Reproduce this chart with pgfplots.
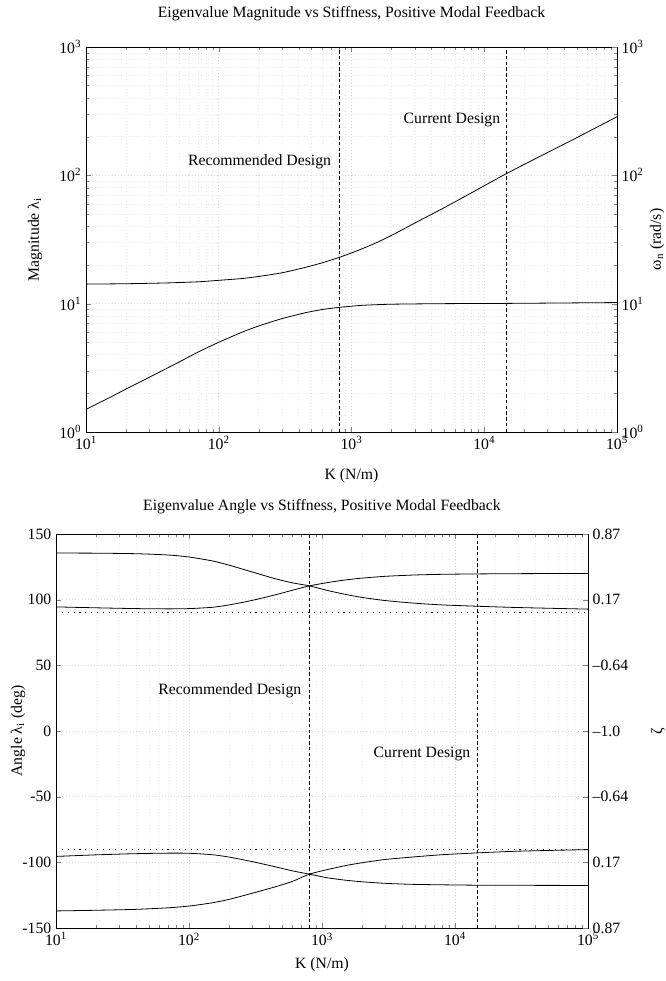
\documentclass[border=0pt]{standalone}
\usepackage{fontspec}
\setmainfont{Liberation Serif}
\usepackage{pgfplots}
\pgfplotsset{compat=1.18}
\newcommand{\tf}{\fontsize{11.8}{14}\selectfont}
\newcommand{\lgl}{10\textsuperscript{\pgfmathparse{int(round(\tick/ln(10)))}\pgfmathresult}}
\begin{document}
\begin{tikzpicture}
\useasboundingbox (0,0) rectangle (498.75pt,735.75pt);
% ---------------- top plot ----------------
\begin{axis}[scale only axis, anchor=south west, at={(64.5pt,411.75pt)}, width=398.25pt, height=288.75pt,
  xmode=log, ymode=log, xmin=10, xmax=100000, ymin=1, ymax=1000,
  tick align=inside, major tick length=4pt, minor tick length=2.2pt,
  xticklabel={\lgl}, yticklabel={\lgl},
  tick label style={font=\tf}, label style={font=\tf}, title style={font=\tf},
  grid=both, major grid style={gray!30, dotted}, minor grid style={gray!18, dotted},
  title={Eigenvalue Magnitude vs Stiffness, Positive Modal Feedback},
  title style={at={(axis description cs:0.5,1)}, anchor=center, yshift=18.75pt},
  xlabel={K (N/m)}, xlabel style={at={(axis description cs:0.5,0)}, anchor=center, yshift=-33pt},
  ylabel={Magnitude λ\textsubscript{i}}, ylabel style={at={(axis description cs:0,0.5)}, anchor=center, yshift=38.25pt},
]
\addplot[black, line width=0.6pt, no markers, smooth, tension=0.4] coordinates {(10,14.2) (20,14.3) (40,14.5) (70,14.8) (100,15.2) (150,15.7) (200,16.3) (300,17.4) (450,19.2) (600,20.8) (804,22.9) (1100,25.8) (1500,29.5) (2000,34) (3000,42.5) (5000,56) (8000,73) (14660,103) (30000,150.6) (50000,197) (100000,286)};
\addplot[black, line width=0.6pt, no markers, smooth, tension=0.4] coordinates {(10,1.5) (15,1.85) (20,2.16) (30,2.67) (50,3.5) (70,4.2) (100,5.0) (150,6.0) (200,6.7) (300,7.65) (450,8.5) (600,9.0) (804,9.35) (1200,9.7) (2000,9.9) (5000,10.0) (15000,10.05) (100000,10.2)};
\addplot[black, line width=0.6pt, dash pattern=on 2.5pt off 1.8pt] coordinates {(804,1) (804,1000)};
\addplot[black, line width=0.6pt, dash pattern=on 2.5pt off 1.8pt] coordinates {(14660,1) (14660,1000)};
\node[font=\tf] at (axis cs:203,127) {Recommended Design};
\node[font=\tf] at (axis cs:5710,270) {Current Design};
\end{axis}
\begin{axis}[scale only axis, anchor=south west, at={(64.5pt,411.75pt)}, width=398.25pt, height=288.75pt,
  xmode=log, ymode=log, xmin=10, xmax=100000, ymin=1, ymax=1000,
  hide x axis, axis y line*=right,
  tick align=inside, major tick length=4pt, minor tick length=2.2pt,
  yticklabel={\lgl}, tick label style={font=\tf}, label style={font=\tf},
  ylabel={ω\textsubscript{n} (rad/s)}, ylabel style={at={(axis description cs:1,0.5)}, anchor=center, yshift=-30pt},
]
\end{axis}
% ---------------- bottom plot ----------------
\begin{axis}[scale only axis, anchor=south west, at={(42pt,39.75pt)}, width=399pt, height=295.5pt,
  xmode=log, xmin=10, xmax=100000, ymin=-150, ymax=150,
  tick align=inside, major tick length=4pt, minor tick length=2.2pt,
  xticklabel={\lgl},
  ytick={-150,-100,-50,0,50,100,150},
  yticklabels={-150,-100,-50,0,50,100,150},
  tick label style={font=\tf}, label style={font=\tf}, title style={font=\tf},
  grid=both, major grid style={gray!30, dotted}, minor grid style={gray!15, dotted},
  title={Eigenvalue Angle vs Stiffness, Positive Modal Feedback},
  title style={at={(axis description cs:0.5,1)}, anchor=center, yshift=14.25pt},
  xlabel={K (N/m)}, xlabel style={at={(axis description cs:0.5,0)}, anchor=center, yshift=-27.75pt},
  ylabel={Angle λ\textsubscript{i} (deg)}, ylabel style={at={(axis description cs:0,0.5)}, anchor=center, yshift=28.5pt},
]
\addplot[black, line width=0.6pt, no markers, smooth, tension=0.4] coordinates {(10,135.5) (20,135.4) (40,135) (70,134) (100,132.5) (150,129.5) (200,126.3) (300,121) (450,115.8) (600,112.8) (804,110.5) (1100,107) (1500,104) (2000,101.7) (3000,99.3) (5000,97.3) (8000,96) (14660,95) (30000,94) (100000,92.8)};
\addplot[black, line width=0.6pt, no markers, smooth, tension=0.4] coordinates {(10,94.5) (20,93.8) (40,93.2) (70,93) (100,93.2) (150,94.2) (200,96) (300,99.5) (450,103.8) (600,107.2) (804,110.5) (1100,113) (1500,115) (2000,116.4) (3000,117.8) (5000,118.8) (8000,119.3) (14660,119.6) (30000,119.8) (100000,120)};
\addplot[black, line width=0.6pt, no markers, smooth, tension=0.4] coordinates {(10,-95.5) (20,-94.3) (40,-93.4) (70,-93) (100,-93.1) (150,-94.2) (200,-96) (300,-99.5) (450,-103.5) (600,-106.5) (804,-109) (1100,-111.8) (1500,-113.6) (2000,-114.8) (3000,-116) (5000,-116.8) (14660,-117.4) (100000,-117.6)};
\addplot[black, line width=0.6pt, no markers, smooth, tension=0.4] coordinates {(10,-137) (20,-136.5) (40,-135.8) (70,-134.6) (100,-133.3) (150,-130.8) (200,-128.2) (300,-123.5) (450,-118.5) (600,-114.5) (804,-109) (1100,-105.5) (1500,-102.5) (2000,-100.3) (3000,-97.8) (5000,-95.8) (8000,-94.2) (14660,-92.8) (30000,-91.5) (100000,-90.3)};
\addplot[black, line width=0.7pt, dash pattern=on 0.8pt off 3.6pt] coordinates {(10,90) (100000,90)};
\addplot[black, line width=0.7pt, dash pattern=on 0.8pt off 3.6pt] coordinates {(10,-90) (100000,-90)};
\addplot[black, line width=0.6pt, dash pattern=on 2.5pt off 1.8pt] coordinates {(804,-150) (804,150)};
\addplot[black, line width=0.6pt, dash pattern=on 2.5pt off 1.8pt] coordinates {(14660,-150) (14660,150)};
\node[font=\tf] at (axis cs:203,31) {Recommended Design};
\node[font=\tf] at (axis cs:5650,-17.6) {Current Design};
\end{axis}
\begin{axis}[scale only axis, anchor=south west, at={(42pt,39.75pt)}, width=399pt, height=295.5pt,
  xmode=log, xmin=10, xmax=100000, ymin=-150, ymax=150,
  hide x axis, axis y line*=right,
  tick align=inside, major tick length=4pt,
  ytick={-150,-100,-50,0,50,100,150},
  yticklabels={0.87,0.17,–0.64,–1.0,–0.64,0.17,0.87},
  tick label style={font=\tf}, label style={font=\tf},
  ylabel={ζ}, ylabel style={at={(axis description cs:1,0.5)}, anchor=center, yshift=-52.5pt},
]
\end{axis}
\end{tikzpicture}
\end{document}
